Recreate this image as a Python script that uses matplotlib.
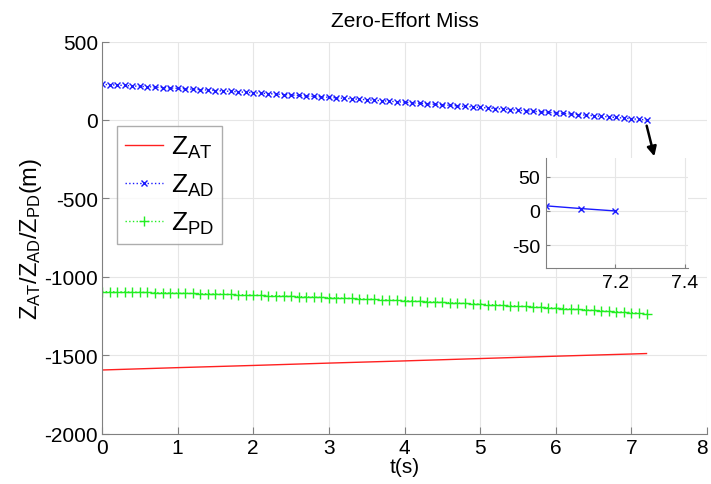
import matplotlib
matplotlib.use("Agg")
import matplotlib.pyplot as plt
import matplotlib.transforms as mtransforms

plt.rcParams['font.family'] = ['Liberation Sans', 'DejaVu Sans']
plt.rcParams['axes.unicode_minus'] = False

t_marks = [round(0.1 * i, 1) for i in range(73)]

z_ad = [227.0, 224.5, 222.0, 219.4, 216.9, 214.3, 211.7, 209.1, 206.4, 203.8,
        201.1, 198.4, 195.7, 193.0, 190.2, 187.5, 184.7, 181.9, 179.1, 176.3,
        173.4, 170.5, 167.6, 164.7, 161.8, 158.9, 155.9, 152.9, 149.9, 146.9,
        143.9, 140.9, 137.8, 134.7, 131.6, 128.5, 125.3, 122.2, 119.0, 115.8,
        112.6, 109.4, 106.1, 102.9, 99.6, 96.3, 93.0, 89.6, 86.3, 82.9,
        79.5, 76.1, 72.7, 69.2, 65.8, 62.3, 58.8, 55.3, 51.7, 48.2,
        44.6, 41.0, 37.4, 33.8, 30.1, 26.5, 22.8, 19.1, 15.4, 11.7,
        7.4, 3.5, 0.0]

z_pd = [-1095.0, -1095.8, -1096.7, -1097.5, -1098.5, -1099.4, -1100.4, -1101.4, -1102.4, -1103.5,
        -1104.6, -1105.7, -1106.9, -1108.1, -1109.3, -1110.6, -1111.9, -1113.2, -1114.6, -1116.0,
        -1117.4, -1118.9, -1120.3, -1121.9, -1123.4, -1125.0, -1126.6, -1128.3, -1129.9, -1131.7,
        -1133.4, -1135.2, -1137.0, -1138.8, -1140.7, -1142.6, -1144.5, -1146.5, -1148.5, -1150.5,
        -1152.6, -1154.7, -1156.8, -1159.0, -1161.2, -1163.4, -1165.7, -1167.9, -1170.3, -1172.6,
        -1175.0, -1177.4, -1179.9, -1182.3, -1184.9, -1187.4, -1190.0, -1192.6, -1195.2, -1197.9,
        -1200.6, -1203.3, -1206.1, -1208.9, -1211.7, -1214.6, -1217.5, -1220.4, -1223.4, -1226.4,
        -1229.4, -1232.5, -1235.5]

t_at = [0, 1, 2, 3, 4, 5, 6, 7, 7.2]
z_at = [-1595, -1580, -1566, -1551, -1537, -1522, -1507, -1493, -1490]

x_ticks = [0, 1, 2, 3, 4, 5, 6, 7, 8]
y_ticks = [-2000, -1500, -1000, -500, 0, 500]
inset_xticks = [7.2, 7.4]
inset_yticks = [-50, 0, 50]

W, H = 711, 485
fig = plt.figure(figsize=(W / 100, H / 100), dpi=100)
ax = fig.add_axes([102 / W, 1 - 434.5 / H, (707 - 102) / W, (434.5 - 42.5) / H])

ax.plot(t_at, z_at, color='#ff2020', lw=1.0, label=r'$\mathregular{Z_{AT}}$')
ax.plot(t_marks, z_ad, color='#1a1aff', lw=1.0, ls=':', marker='x', ms=4, mew=1.0,
        label=r'$\mathregular{Z_{AD}}$')
ax.plot(t_marks, z_pd, color='#22ee22', lw=1.0, ls=':', marker='+', ms=7, mew=1.0,
        label=r'$\mathregular{Z_{PD}}$')

ax.set_xlim(0, 8)
ax.set_ylim(-2000, 500)
ax.set_xticks(x_ticks)
ax.set_yticks(y_ticks)
ax.grid(True, color='#e6e6e6', lw=0.8)
ax.set_axisbelow(True)
for s in ['top', 'right']:
    ax.spines[s].set_visible(False)
for s in ['left', 'bottom']:
    ax.spines[s].set_color('#808080')
ax.tick_params(direction='in', length=5, color='#808080', labelsize=15, pad=3)
ax.set_title('Zero-Effort Miss', fontsize=15, pad=11)
ax.set_xlabel('t(s)', fontsize=15, labelpad=0)
ax.set_ylabel(r'$\mathregular{Z_{AT}/Z_{AD}/Z_{PD}(m)}$', fontsize=17, labelpad=0)

# nudge last x tick label so it stays inside the figure
last_lbl = ax.get_xticklabels()[-1]
last_lbl.set_transform(last_lbl.get_transform() +
                       mtransforms.ScaledTranslation(-5 / 100, 0, fig.dpi_scale_trans))

leg = ax.legend(loc='upper left', bbox_to_anchor=((117 - 102) / 605, (434.5 - 127) / 392),
                fontsize=19, frameon=True, fancybox=False, handlelength=1.45,
                borderpad=0.3, labelspacing=0.45, handletextpad=0.3, borderaxespad=0)
leg.get_frame().set_edgecolor('#999999')
leg.get_frame().set_linewidth(1.0)

# inset
ax2 = fig.add_axes([546 / W, 1 - 269 / H, (688 - 546) / W, (269 - 159) / H])
ax2.plot(t_marks, z_ad, color='#1a1aff', lw=1.0, marker='x', ms=4, mew=1.0)
ax2.set_xlim(7.0, 7.41)
ax2.set_ylim(-83, 77)
ax2.set_xticks(inset_xticks)
ax2.set_yticks(inset_yticks)
ax2.grid(True, color='#e6e6e6', lw=0.8)
for s in ['top', 'right']:
    ax2.spines[s].set_visible(False)
for s in ['left', 'bottom']:
    ax2.spines[s].set_color('#808080')
ax2.tick_params(direction='in', length=3, color='#808080', labelsize=14, pad=4)

ax.annotate('', xy=(655, H - 160), xycoords='figure pixels',
            xytext=(646, H - 124), textcoords='figure pixels',
            arrowprops=dict(arrowstyle='-|>', color='black', lw=1.8, mutation_scale=14))

fig.savefig('out.png', dpi=100)
